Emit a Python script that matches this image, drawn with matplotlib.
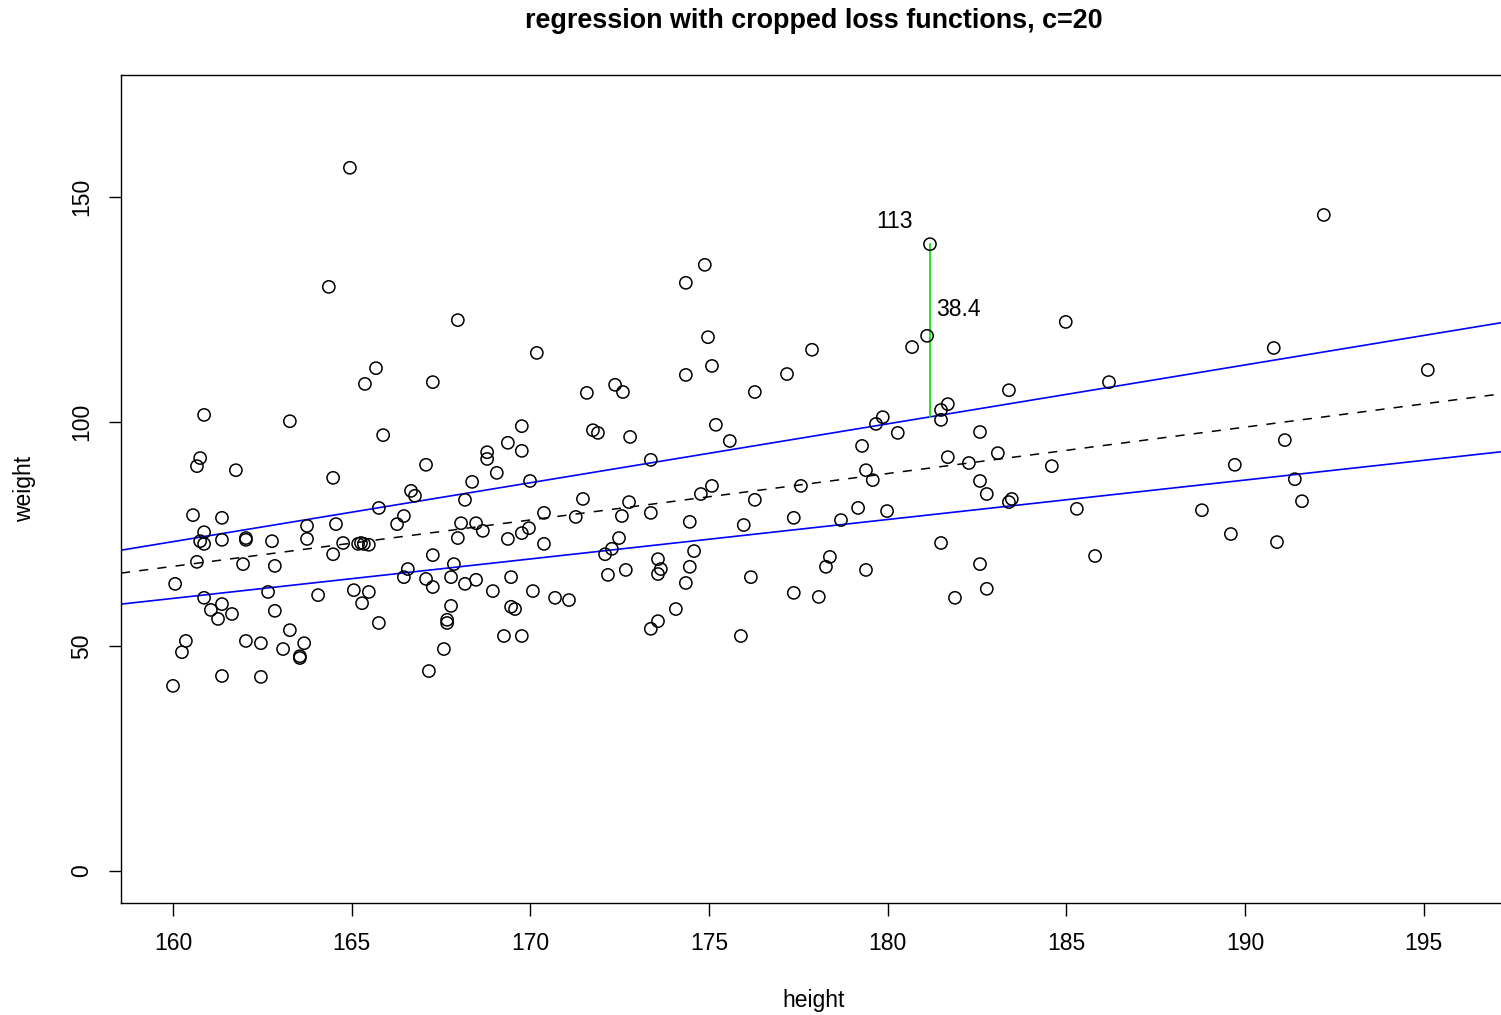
import matplotlib
matplotlib.use("Agg")
import matplotlib.pyplot as plt

plt.rcParams['font.family'] = ['Liberation Sans', 'DejaVu Sans']

height = [160.0, 160.06, 160.25, 160.36, 160.56, 160.67, 160.67, 160.76, 160.76, 160.87,
          160.87, 160.87, 160.87, 161.06, 161.26, 161.37, 161.37, 161.37, 161.37, 161.65,
          161.76, 161.96, 162.04, 162.04, 162.04, 162.46, 162.46, 162.66, 162.77, 162.85,
          162.85, 163.08, 163.27, 163.27, 163.55, 163.55, 163.67, 163.75, 163.75, 164.06,
          164.36, 164.48, 164.48, 164.56, 164.76, 164.95, 165.06, 165.18, 165.26, 165.29,
          165.34, 165.37, 165.48, 165.48, 165.68, 165.76, 165.76, 165.88, 166.27, 166.46,
          166.46, 166.57, 166.66, 166.77, 167.08, 167.08, 167.16, 167.27, 167.27, 167.27,
          167.58, 167.67, 167.67, 167.78, 167.78, 167.86, 167.97, 167.97, 168.06, 168.17,
          168.17, 168.37, 168.48, 168.48, 168.67, 168.79, 168.79, 168.95, 169.06, 169.26,
          169.37, 169.37, 169.46, 169.46, 169.57, 169.76, 169.76, 169.76, 169.76, 169.96,
          169.99, 170.07, 170.18, 170.38, 170.38, 170.69, 171.08, 171.27, 171.47, 171.58,
          171.75, 171.89, 172.09, 172.17, 172.28, 172.37, 172.48, 172.56, 172.59, 172.67,
          172.76, 172.79, 173.37, 173.37, 173.37, 173.57, 173.57, 173.57, 173.65, 174.07,
          174.35, 174.35, 174.35, 174.46, 174.46, 174.58, 174.77, 174.88, 174.97, 175.08,
          175.08, 175.19, 175.58, 175.89, 175.97, 176.17, 176.28, 176.28, 177.18, 177.37,
          177.37, 177.57, 177.88, 178.07, 178.27, 178.38, 178.69, 179.17, 179.28, 179.39,
          179.39, 179.58, 179.67, 179.86, 179.98, 180.28, 180.68, 181.10, 181.18, 181.49,
          181.49, 181.49, 181.68, 181.68, 181.88, 182.27, 182.58, 182.58, 182.58, 182.77,
          182.77, 183.08, 183.39, 183.39, 183.47, 184.59, 184.98, 185.29, 185.80, 186.19,
          188.79, 189.60, 189.71, 190.80, 190.89, 191.11, 191.39, 191.59, 192.20, 195.11]

weight = [41.2, 63.9, 48.7, 51.2, 79.2, 90.1, 68.8, 91.9, 73.4, 101.5,
          75.4, 72.8, 60.8, 58.1, 56.1, 78.6, 73.7, 59.4, 43.4, 57.2,
          89.2, 68.3, 74.1, 73.7, 51.2, 50.7, 43.2, 62.1, 73.4, 67.9,
          57.9, 49.4, 100.1, 53.6, 47.8, 47.4, 50.7, 76.8, 73.9, 61.4,
          130.0, 87.5, 70.5, 77.2, 73.0, 156.5, 62.5, 72.8, 73.0, 59.6,
          72.8, 108.4, 72.6, 62.1, 111.9, 80.8, 55.2, 97.0, 77.2, 79.0,
          65.4, 67.2, 84.6, 83.5, 90.4, 65.0, 44.5, 108.8, 70.3, 63.2,
          49.4, 55.9, 55.2, 65.4, 59.0, 68.3, 122.6, 74.1, 77.4, 82.6,
          63.9, 86.6, 77.4, 64.8, 75.7, 93.2, 91.7, 62.3, 88.6, 52.3,
          95.3, 73.9, 65.4, 58.8, 58.3, 99.0, 93.5, 75.2, 52.3, 76.3,
          86.8, 62.3, 115.3, 79.7, 72.8, 60.8, 60.3, 78.8, 82.8, 106.4,
          98.1, 97.5, 70.5, 65.9, 71.7, 108.2, 74.1, 79.0, 106.6, 67.0,
          82.1, 96.6, 91.5, 79.7, 53.9, 55.6, 69.4, 66.1, 67.2, 58.3,
          130.9, 110.4, 64.1, 77.7, 67.7, 71.2, 83.9, 134.9, 118.8, 112.4,
          85.7, 99.3, 95.7, 52.3, 77.0, 65.4, 106.6, 82.6, 110.6, 78.6,
          61.9, 85.7, 116.0, 61.0, 67.7, 69.9, 78.1, 80.8, 94.6, 89.2,
          67.0, 87.0, 99.5, 101.0, 80.1, 97.5, 116.6, 119.1, 139.5, 102.6,
          100.4, 73.0, 103.9, 92.1, 60.8, 90.8, 97.7, 86.8, 68.3, 83.9,
          62.8, 93.0, 107.0, 82.1, 82.8, 90.1, 122.2, 80.6, 70.1, 108.8,
          80.3, 75.0, 90.4, 116.4, 73.2, 95.9, 87.2, 82.3, 146.0, 111.5]

# regression lines: value at height 160 and slope
line_upper = (73.3, 1.311)
line_mid = (67.8, 1.033)
line_lower = (60.67, 0.878)

# highlighted point
hl_x = 181.18
hl_y = 139.5
hl_fit = 101.1
hl_index = "113"
hl_resid = "38.4"

xticks = [160, 165, 170, 175, 180, 185, 190, 195]
yticks = [0, 50, 100, 150]

FS = 16.5
W, H = 1501, 1015
fig = plt.figure(figsize=(W / 100, H / 100), dpi=100)
ax = fig.add_axes([121 / W, 1 - 903 / H, (1520 - 121) / W, (903 - 75) / H])

ax.scatter(height, weight, s=8.8 ** 2, facecolors='none', edgecolors='black',
           linewidths=1.1, zorder=3)

ax.axline((160, line_upper[0]), slope=line_upper[1], color='blue', lw=1.2)
ax.axline((160, line_lower[0]), slope=line_lower[1], color='blue', lw=1.2)
ax.axline((160, line_mid[0]), slope=line_mid[1], color='black', lw=1.1,
          linestyle=(0, (6, 6)))

ax.plot([hl_x, hl_x], [hl_fit, hl_y], color='#00e000', lw=1.2, zorder=2)
ax.text(hl_x - 0.98, hl_y + 5.0, hl_index, ha='center', va='center', fontsize=FS)
ax.text(hl_x + 0.17, (hl_fit + hl_y) / 2 + 4.6, hl_resid, ha='left', va='center',
        fontsize=FS)

ax.set_xlim(158.545, 197.69)
ax.set_ylim(-7.12, 177.15)
ax.set_xticks(xticks)
ax.set_yticks(yticks)
ax.set_xticklabels([str(t) for t in xticks], fontsize=FS)
ax.set_yticklabels([str(t) for t in yticks], fontsize=FS, rotation=90, va='center')
ax.tick_params(direction='out', length=9, width=1, pad=12, colors='black')
ax.tick_params(axis='y', pad=11)
for sp in ax.spines.values():
    sp.set_linewidth(1)
    sp.set_color('black')

fig.text(814 / W, 1 - 1000 / H, "height", ha='center', va='center', fontsize=FS)
fig.text(25 / W, 1 - 489 / H, "weight", ha='center', va='center', fontsize=FS,
         rotation=90)
fig.text(814 / W, 1 - 21 / H, "regression with cropped loss functions, c=20",
         ha='center', va='center', fontsize=19.4, fontweight='bold')

fig.savefig("out.png", dpi=100)
